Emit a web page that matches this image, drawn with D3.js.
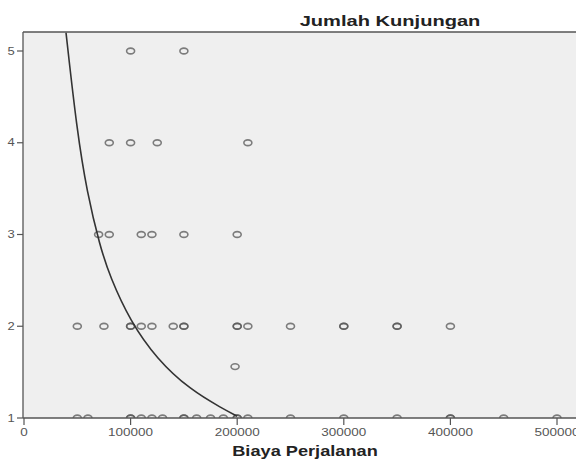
<!DOCTYPE html>
<html>
<head>
<meta charset="utf-8">
<script src="https://cdn.jsdelivr.net/npm/d3@7/dist/d3.min.js"></script>
<style>
  body { margin: 0; background: #fff; }
  svg { display: block; }
</style>
</head>
<body>
<script>
// observed points: biaya perjalanan (x) vs jumlah kunjungan (y)
var biaya = [
  100000, 150000,
  80000, 100000, 125000, 210000,
  70000, 80000, 110000, 120000, 150000, 200000,
  50000, 75000, 100000, 100000, 110000, 120000, 140000, 150000, 150000, 200000, 200000, 210000, 250000, 300000, 300000, 350000, 350000, 400000,
  198000,
  50000, 60000, 100000, 100000, 110000, 120000, 130000, 150000, 150000, 162000, 175000, 187000, 200000, 200000, 210000, 250000, 300000, 350000, 400000, 400000, 450000, 500000
];
var kunjungan = [
  5, 5,
  4, 4, 4, 4,
  3, 3, 3, 3, 3, 3,
  2, 2, 2, 2, 2, 2, 2, 2, 2, 2, 2, 2, 2, 2, 2, 2, 2, 2,
  1.56,
  1, 1, 1, 1, 1, 1, 1, 1, 1, 1, 1, 1, 1, 1, 1, 1, 1, 1, 1, 1, 1, 1
];

// fitted curve
var kurvaX = [39400, 49700, 59100, 71300, 80700, 99400, 124800, 155700, 186700, 200000];
var kurvaY = [5.2, 4.13, 3.46, 2.87, 2.54, 2.06, 1.64, 1.31, 1.10, 1.02];

var xTicks = [0, 100000, 200000, 300000, 400000, 500000];
var yTicks = [1, 2, 3, 4, 5];

var width = 576, height = 461;
var plot = {left: 23, top: 32, right: 576, bottom: 418};

var x = d3.scaleLinear().domain([0, 500000]).range([24, 557]);
var y = d3.scaleLinear().domain([1, 5]).range([418, 51]);

var svg = d3.select("body").append("svg")
    .attr("width", width)
    .attr("height", height);

svg.append("defs").append("clipPath")
    .attr("id", "clip")
    .append("rect")
    .attr("x", plot.left)
    .attr("y", plot.top)
    .attr("width", plot.right - plot.left)
    .attr("height", plot.bottom - plot.top);

svg.append("rect")
    .attr("x", plot.left)
    .attr("y", plot.top)
    .attr("width", plot.right - plot.left)
    .attr("height", plot.bottom - plot.top)
    .attr("fill", "#efefef");

var g = svg.append("g").attr("clip-path", "url(#clip)");

var points = biaya.map(function(b, i) { return {x: b, y: kunjungan[i]}; });

g.selectAll(".pt")
    .data(points)
    .enter()
    .append("ellipse")
    .attr("class", "pt")
    .attr("cx", function(d) { return x(d.x); })
    .attr("cy", function(d) { return y(d.y); })
    .attr("rx", 4)
    .attr("ry", 2.9)
    .attr("fill", "none")
    .attr("stroke", "#555")
    .attr("stroke-opacity", 0.75)
    .attr("stroke-width", 1.6);

var kurva = kurvaX.map(function(v, i) { return [v, kurvaY[i]]; });
var line = d3.line()
    .x(function(d) { return x(d[0]); })
    .y(function(d) { return y(d[1]); })
    .curve(d3.curveBasis);

g.append("path")
    .datum(kurva)
    .attr("d", line)
    .attr("fill", "none")
    .attr("stroke", "#333")
    .attr("stroke-width", 1.6);

// frame lines
svg.append("line")
    .attr("x1", plot.left).attr("x2", plot.right)
    .attr("y1", plot.top).attr("y2", plot.top)
    .attr("stroke", "#555").attr("stroke-width", 1.3);
svg.append("line")
    .attr("x1", plot.left).attr("x2", plot.left)
    .attr("y1", plot.top).attr("y2", plot.bottom)
    .attr("stroke", "#555").attr("stroke-width", 1.3);
svg.append("line")
    .attr("x1", plot.left).attr("x2", plot.right)
    .attr("y1", plot.bottom).attr("y2", plot.bottom)
    .attr("stroke", "#555").attr("stroke-width", 1.3);

// y axis ticks
svg.selectAll(".ytick")
    .data(yTicks)
    .enter()
    .append("line")
    .attr("x1", 17).attr("x2", plot.left)
    .attr("y1", function(d) { return y(d); })
    .attr("y2", function(d) { return y(d); })
    .attr("stroke", "#555").attr("stroke-width", 1.2);

svg.selectAll(".ylab")
    .data(yTicks)
    .enter()
    .append("text")
    .attr("transform", function(d) { return "translate(11," + (y(d) + 3.5) + ") scale(1.3,1)"; })
    .attr("text-anchor", "middle")
    .attr("font-family", "Liberation Sans, Arial, sans-serif")
    .attr("font-size", 10)
    .attr("fill", "#555")
    .text(function(d) { return d; });

// x axis ticks
svg.selectAll(".xtick")
    .data(xTicks)
    .enter()
    .append("line")
    .attr("x1", function(d) { return x(d); })
    .attr("x2", function(d) { return x(d); })
    .attr("y1", plot.bottom).attr("y2", plot.bottom + 7)
    .attr("stroke", "#555").attr("stroke-width", 1.2);

svg.selectAll(".xlab")
    .data(xTicks)
    .enter()
    .append("text")
    .attr("transform", function(d) { return "translate(" + x(d) + ",436) scale(1.35,1)"; })
    .attr("text-anchor", "middle")
    .attr("font-family", "Liberation Sans, Arial, sans-serif")
    .attr("font-size", 10)
    .attr("fill", "#555")
    .text(function(d) { return d; });

// titles
svg.append("text")
    .attr("transform", "translate(390,26) scale(1.34,1)")
    .attr("text-anchor", "middle")
    .attr("font-family", "Liberation Sans, Arial, sans-serif")
    .attr("font-weight", "bold")
    .attr("font-size", 15)
    .attr("fill", "#222")
    .text("Jumlah Kunjungan");

svg.append("text")
    .attr("transform", "translate(305,456) scale(1.3,1)")
    .attr("text-anchor", "middle")
    .attr("font-family", "Liberation Sans, Arial, sans-serif")
    .attr("font-weight", "bold")
    .attr("font-size", 14)
    .attr("fill", "#222")
    .text("Biaya Perjalanan");
</script>
</body>
</html>
